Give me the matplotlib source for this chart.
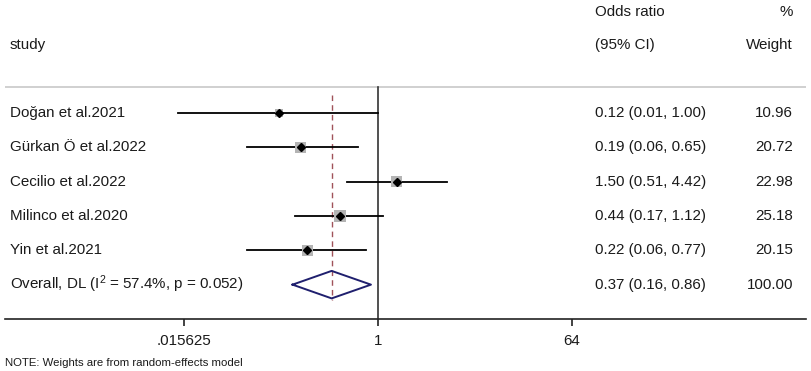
import numpy as np
import matplotlib
matplotlib.use("Agg")
import matplotlib.pyplot as plt
import matplotlib.transforms as mtransforms

plt.rcParams['font.family'] = ['Liberation Sans', 'DejaVu Sans']
plt.rcParams['mathtext.fontset'] = 'custom'
plt.rcParams['mathtext.rm'] = 'Liberation Sans'
plt.rcParams['mathtext.it'] = 'Liberation Sans:italic'

# data
studies = ["Doğan et al.2021", "Gürkan Ö et al.2022", "Cecilio et al.2022",
           "Milinco et al.2020", "Yin et al.2021"]
odds = [0.12, 0.19, 1.50, 0.44, 0.22]
lower = [0.0137, 0.06, 0.51, 0.17, 0.06]
upper = [1.00, 0.65, 4.42, 1.12, 0.77]
ci_text = ["0.12 (0.01, 1.00)", "0.19 (0.06, 0.65)", "1.50 (0.51, 4.42)",
           "0.44 (0.17, 1.12)", "0.22 (0.06, 0.77)"]
weights = [10.96, 20.72, 22.98, 25.18, 20.15]

overall_label = "Overall, DL (I$^{\\mathrm{2}}$ = 57.4%, p = 0.052)"
overall_or = 0.37
overall_lo = 0.16
overall_hi = 0.86
overall_ci_text = "0.37 (0.16, 0.86)"
overall_weight = "100.00"

tick_vals = [0.015625, 1, 64]
tick_labels = [".015625", "1", "64"]

W, H = 811, 371
fig = plt.figure(figsize=(W / 100, H / 100), dpi=100)
ax = fig.add_axes([5 / W, (H - 319) / H, 801 / W, 319 / H])
ax.set_xscale('log')
ax.set_xlim(np.exp(-8.0), np.exp(9.18))
ax.set_ylim(6.0, -3.285)

txt_col = '#1a1a1a'
fs = 10.9
rows = np.arange(len(studies))

# header line and vertical reference lines
ax.axhline(-0.76, color='#c8c8c8', lw=1.2)
ax.plot([1, 1], [-0.74, 6.0], color='#333333', lw=1.2)
ax.plot([overall_or, overall_or], [-0.52, 5.45], color='#a0525a', lw=1.0,
        ls=(0, (4, 3)))

# CIs, weight boxes, point estimates
for i in rows:
    ax.plot([lower[i], upper[i]], [i, i], color='black', lw=1.3, zorder=2)
ax.scatter(odds, rows, marker='s', s=np.array(weights) * 2.8, color='#b4b4b4',
           zorder=3, linewidths=0)
ax.plot(odds, rows, ls='none', marker='D', ms=4.3, color='black', zorder=4)

# overall diamond
dx = [overall_lo, overall_or, overall_hi, overall_or, overall_lo]
dy = [5, 4.6, 5, 5.4, 5]
ax.plot(dx, dy, color='#1f1f6e', lw=1.4, zorder=4)

# text columns
tr = mtransforms.blended_transform_factory(fig.transFigure, ax.transData)
for i in rows:
    ax.text(10 / W, i, studies[i], transform=tr, fontsize=fs, va='center',
            color=txt_col)
    ax.text(595 / W, i, ci_text[i], transform=tr, fontsize=fs, va='center',
            color=txt_col)
    ax.text(793 / W, i, f"{weights[i]:.2f}", transform=tr, fontsize=fs,
            va='center', ha='right', color=txt_col)
ax.text(10 / W, 5, overall_label, transform=tr, fontsize=fs, va='center',
        color=txt_col)
ax.text(595 / W, 5, overall_ci_text, transform=tr, fontsize=fs, va='center',
        color=txt_col)
ax.text(793 / W, 5, overall_weight, transform=tr, fontsize=fs, va='center',
        ha='right', color=txt_col)

ax.text(10 / W, -1.98, "study", transform=tr, fontsize=fs, va='center',
        color=txt_col)
ax.text(595 / W, -2.94, "Odds ratio", transform=tr, fontsize=fs, va='center',
        color=txt_col)
ax.text(595 / W, -1.98, "(95% CI)", transform=tr, fontsize=fs, va='center',
        color=txt_col)
ax.text(793 / W, -2.94, "%", transform=tr, fontsize=fs, va='center',
        ha='right', color=txt_col)
ax.text(793 / W, -1.98, "Weight", transform=tr, fontsize=fs, va='center',
        ha='right', color=txt_col)

# axis styling
for s in ['top', 'left', 'right']:
    ax.spines[s].set_visible(False)
ax.spines['bottom'].set_color('#222222')
ax.spines['bottom'].set_linewidth(1.2)
ax.set_yticks([])
ax.set_xticks(tick_vals)
ax.set_xticklabels(tick_labels)
ax.xaxis.set_minor_locator(matplotlib.ticker.NullLocator())
ax.tick_params(axis='x', direction='out', length=5, width=1.2,
               color='#222222', labelsize=fs, labelcolor=txt_col, pad=6)
ax.patch.set_alpha(0)

fig.text(5 / W, 1 - 363 / H, "NOTE: Weights are from random-effects model",
         fontsize=8.2, va='center', color=txt_col)

fig.savefig("out.png", dpi=100)
plt.close(fig)
